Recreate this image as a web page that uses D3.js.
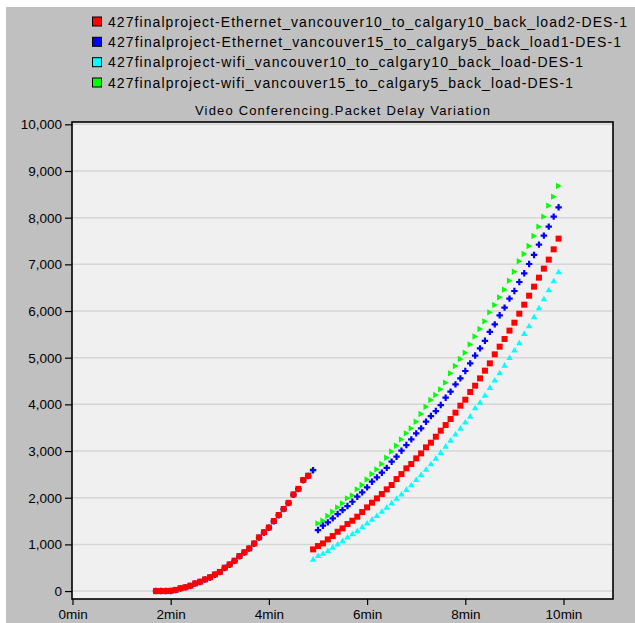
<!DOCTYPE html>
<html>
<head>
<meta charset="utf-8">
<script src="https://cdn.jsdelivr.net/npm/d3@7"></script>
<style>
  html, body { margin: 0; padding: 0; background: #ffffff; }
  svg { display: block; }
  text { font-family: "Liberation Sans", Arial, Helvetica, sans-serif; fill: #000; }
</style>
</head>
<body>
<svg id="chart" width="635" height="623"></svg>
<script>
// Sample times (minutes) shared by every statistic
const minutes = [
  1.7, 1.8, 1.9, 2.0, 2.1, 2.2, 2.3, 2.4, 2.5, 2.6, 2.7, 2.8, 2.9,
  3.0, 3.1, 3.2, 3.3, 3.4, 3.5, 3.6, 3.7, 3.8, 3.9,
  4.0, 4.1, 4.2, 4.3, 4.4, 4.5, 4.6, 4.7, 4.8, 4.9,
  5.0, 5.1, 5.2, 5.3, 5.4, 5.5, 5.6, 5.7, 5.8, 5.9,
  6.0, 6.1, 6.2, 6.3, 6.4, 6.5, 6.6, 6.7, 6.8, 6.9,
  7.0, 7.1, 7.2, 7.3, 7.4, 7.5, 7.6, 7.7, 7.8, 7.9,
  8.0, 8.1, 8.2, 8.3, 8.4, 8.5, 8.6, 8.7, 8.8, 8.9,
  9.0, 9.1, 9.2, 9.3, 9.4, 9.5, 9.6, 9.7, 9.8, 9.9
];

// Packet delay variation per scenario
const ethernetV10C10Load2 = [
  0, 0, 0, 5, 25, 60, 80, 115, 165, 200, 250, 295, 355,
  410, 500, 570, 650, 750, 830, 915, 1020, 1150, 1260,
  1360, 1500, 1630, 1760, 1890, 2070, 2190, 2380, 2470, 893,
  964, 1021, 1107, 1179, 1271, 1343, 1436, 1507, 1593, 1693,
  1793, 1893, 1986, 2079, 2179, 2272, 2400, 2507, 2629, 2722,
  2843, 2950, 3079, 3179, 3307, 3436, 3557, 3686, 3822, 3972,
  4100, 4265, 4400, 4557, 4722, 4879, 5072, 5236, 5400, 5580,
  5750, 5943, 6136, 6329, 6522, 6715, 6908, 7101, 7322, 7551
];
const ethernetV15C5Load1 = [
  0, 0, 0, 0, 20, 55, 80, 110, 160, 195, 245, 290, 350,
  405, 495, 565, 645, 745, 825, 910, 1015, 1145, 1255,
  1355, 1495, 1625, 1755, 1885, 2065, 2185, 2375, 2465, 2590,
  1307, 1400, 1471, 1557, 1650, 1736, 1822, 1914, 2022, 2114,
  2222, 2343, 2436, 2536, 2640, 2772, 2879, 3007, 3129, 3250,
  3379, 3486, 3629, 3750, 3857, 3986, 4143, 4272, 4429, 4557,
  4715, 4879, 5046, 5200, 5362, 5553, 5715, 5908, 6072, 6265,
  6429, 6622, 6808, 7008, 7201, 7422, 7615, 7808, 8022, 8222
];
const wifiV10C10 = [
  0, 0, 0, 5, 25, 60, 85, 120, 170, 205, 255, 300, 360,
  415, 505, 575, 655, 755, 835, 920, 1030, 1155, 1265,
  1370, 1505, 1640, 1770, 1900, 2080, 2200, 2390, 2480, 686,
  764, 810, 870, 943, 1010, 1080, 1160, 1230, 1300, 1380,
  1460, 1540, 1620, 1710, 1800, 1890, 1990, 2080, 2180, 2280,
  2390, 2500, 2610, 2730, 2850, 2972, 3107, 3236, 3365, 3493,
  3622, 3750, 3929, 4050, 4200, 4365, 4522, 4679, 4843, 5004,
  5165, 5325, 5522, 5686, 5879, 6072, 6265, 6458, 6650, 6843
];
const wifiV15C5 = [
  0, 0, 0, 0, 20, 55, 80, 110, 160, 195, 245, 290, 350,
  405, 495, 565, 645, 745, 825, 910, 1015, 1145, 1255,
  1355, 1495, 1625, 1755, 1885, 2065, 2185, 2375, 2470, 2580,
  1450, 1507, 1607, 1700, 1793, 1879, 1986, 2050, 2179, 2272,
  2390, 2507, 2607, 2722, 2857, 2990, 3114, 3250, 3379, 3486,
  3629, 3793, 3950, 4093, 4200, 4322, 4465, 4665, 4822, 4972,
  5107, 5285, 5455, 5615, 5779, 5972, 6129, 6293, 6458, 6650,
  6843, 7065, 7222, 7393, 7608, 7808, 8022, 8258, 8451, 8679
];

const legendLabels = [
  "427finalproject-Ethernet_vancouver10_to_calgary10_back_load2-DES-1",
  "427finalproject-Ethernet_vancouver15_to_calgary5_back_load1-DES-1",
  "427finalproject-wifi_vancouver10_to_calgary10_back_load-DES-1",
  "427finalproject-wifi_vancouver15_to_calgary5_back_load-DES-1"
];
const seriesColors = ["#ff0000", "#0000ff", "#00ffff", "#00ff00"];
const seriesValues = [ethernetV10C10Load2, ethernetV15C5Load1, wifiV10C10, wifiV15C5];

const chartTitle = "Video Conferencing.Packet Delay Variation";
const xTickValues = [0, 2, 4, 6, 8, 10];
const yTickValues = [0, 1000, 2000, 3000, 4000, 5000, 6000, 7000, 8000, 9000, 10000];

// Marker outlines, centred on the data point
const markerPaths = [
  "M-3,-3h6v6h-6z",                                                    // square
  "M-1.1,-3.2h2.2v2.1h2.1v2.2h-2.1v2.1h-2.2v-2.1h-2.1v-2.2h2.1z",      // plus
  "M0,-3L3.2,2.6L-3.2,2.6Z",                                           // triangle up
  "M-2.6,-3.2L3,0L-2.6,3.2Z"                                           // triangle right
];

// ---- layout ----
const W = 635, H = 623;
const plot = { left: 72, right: 613, top: 122, bottom: 599 };

const svg = d3.select("#chart");

svg.append("rect")
  .attr("x", 6).attr("y", 7).attr("width", W - 6).attr("height", H - 7)
  .attr("fill", "#c0c0c0");

svg.append("rect")
  .attr("x", plot.left).attr("y", plot.top)
  .attr("width", plot.right - plot.left).attr("height", plot.bottom - plot.top)
  .attr("fill", "#f0f0f0");

const x = d3.scaleLinear().domain([0, 11]).range([72.5, 612.6]);
const y = d3.scaleLinear().domain([-170, 10050]).range([plot.bottom, plot.top]);

// horizontal grid
svg.append("g")
  .selectAll("line")
  .data(yTickValues)
  .join("line")
  .attr("x1", plot.left).attr("x2", plot.right)
  .attr("y1", d => y(d)).attr("y2", d => y(d))
  .attr("stroke", "#d6d6d6").attr("stroke-width", 1.5);

// data markers (drawn so the first legend entry ends up on top)
const drawOrder = [2, 3, 1, 0];
drawOrder.forEach(si => {
  svg.append("g")
    .selectAll("path")
    .data(seriesValues[si].map((v, i) => ({ t: minutes[i], v })))
    .join("path")
    .attr("d", markerPaths[si])
    .attr("transform", d => `translate(${x(d.t)},${y(d.v)})`)
    .attr("fill", seriesColors[si]);
});

// frame
svg.append("rect")
  .attr("x", plot.left).attr("y", plot.top)
  .attr("width", plot.right - plot.left).attr("height", plot.bottom - plot.top)
  .attr("fill", "none").attr("stroke", "#000").attr("stroke-width", 1.6);

// axes
const yAxis = svg.append("g")
  .attr("transform", `translate(${plot.left},0)`)
  .call(d3.axisLeft(y).tickValues(yTickValues).tickSize(7).tickPadding(3)
    .tickFormat(d3.format(",")));
const xAxis = svg.append("g")
  .attr("transform", `translate(0,${plot.bottom})`)
  .call(d3.axisBottom(x).tickValues(xTickValues).tickSize(6).tickPadding(4)
    .tickFormat(d => d + "min"));
[yAxis, xAxis].forEach(g => {
  g.select(".domain").remove();
  g.selectAll(".tick line").attr("stroke", "#000").attr("stroke-width", 1.2);
  g.selectAll(".tick text").attr("fill", "#000")
    .style("font-family", '"Liberation Sans", Arial, sans-serif')
    .style("font-size", "13.5px");
});

// title
svg.append("text")
  .attr("x", (plot.left + plot.right) / 2).attr("y", 115)
  .attr("text-anchor", "middle")
  .attr("font-size", "13px")
  .attr("textLength", 295)
  .text(chartTitle);

// legend
const legendRows = [21.5, 41.8, 62.2, 82.5];
const legendEnds = [627, 621, 583, 573];
const legend = svg.append("g");
legendLabels.forEach((label, i) => {
  legend.append("rect")
    .attr("x", 92.5).attr("y", legendRows[i] - 4.5)
    .attr("width", 9).attr("height", 9)
    .attr("fill", seriesColors[i]).attr("stroke", "#000").attr("stroke-width", 1);
  legend.append("text")
    .attr("x", 108).attr("y", legendRows[i] + 5)
    .attr("font-size", "14px")
    .attr("textLength", legendEnds[i] - 108)
    .text(label);
});
</script>
</body>
</html>
